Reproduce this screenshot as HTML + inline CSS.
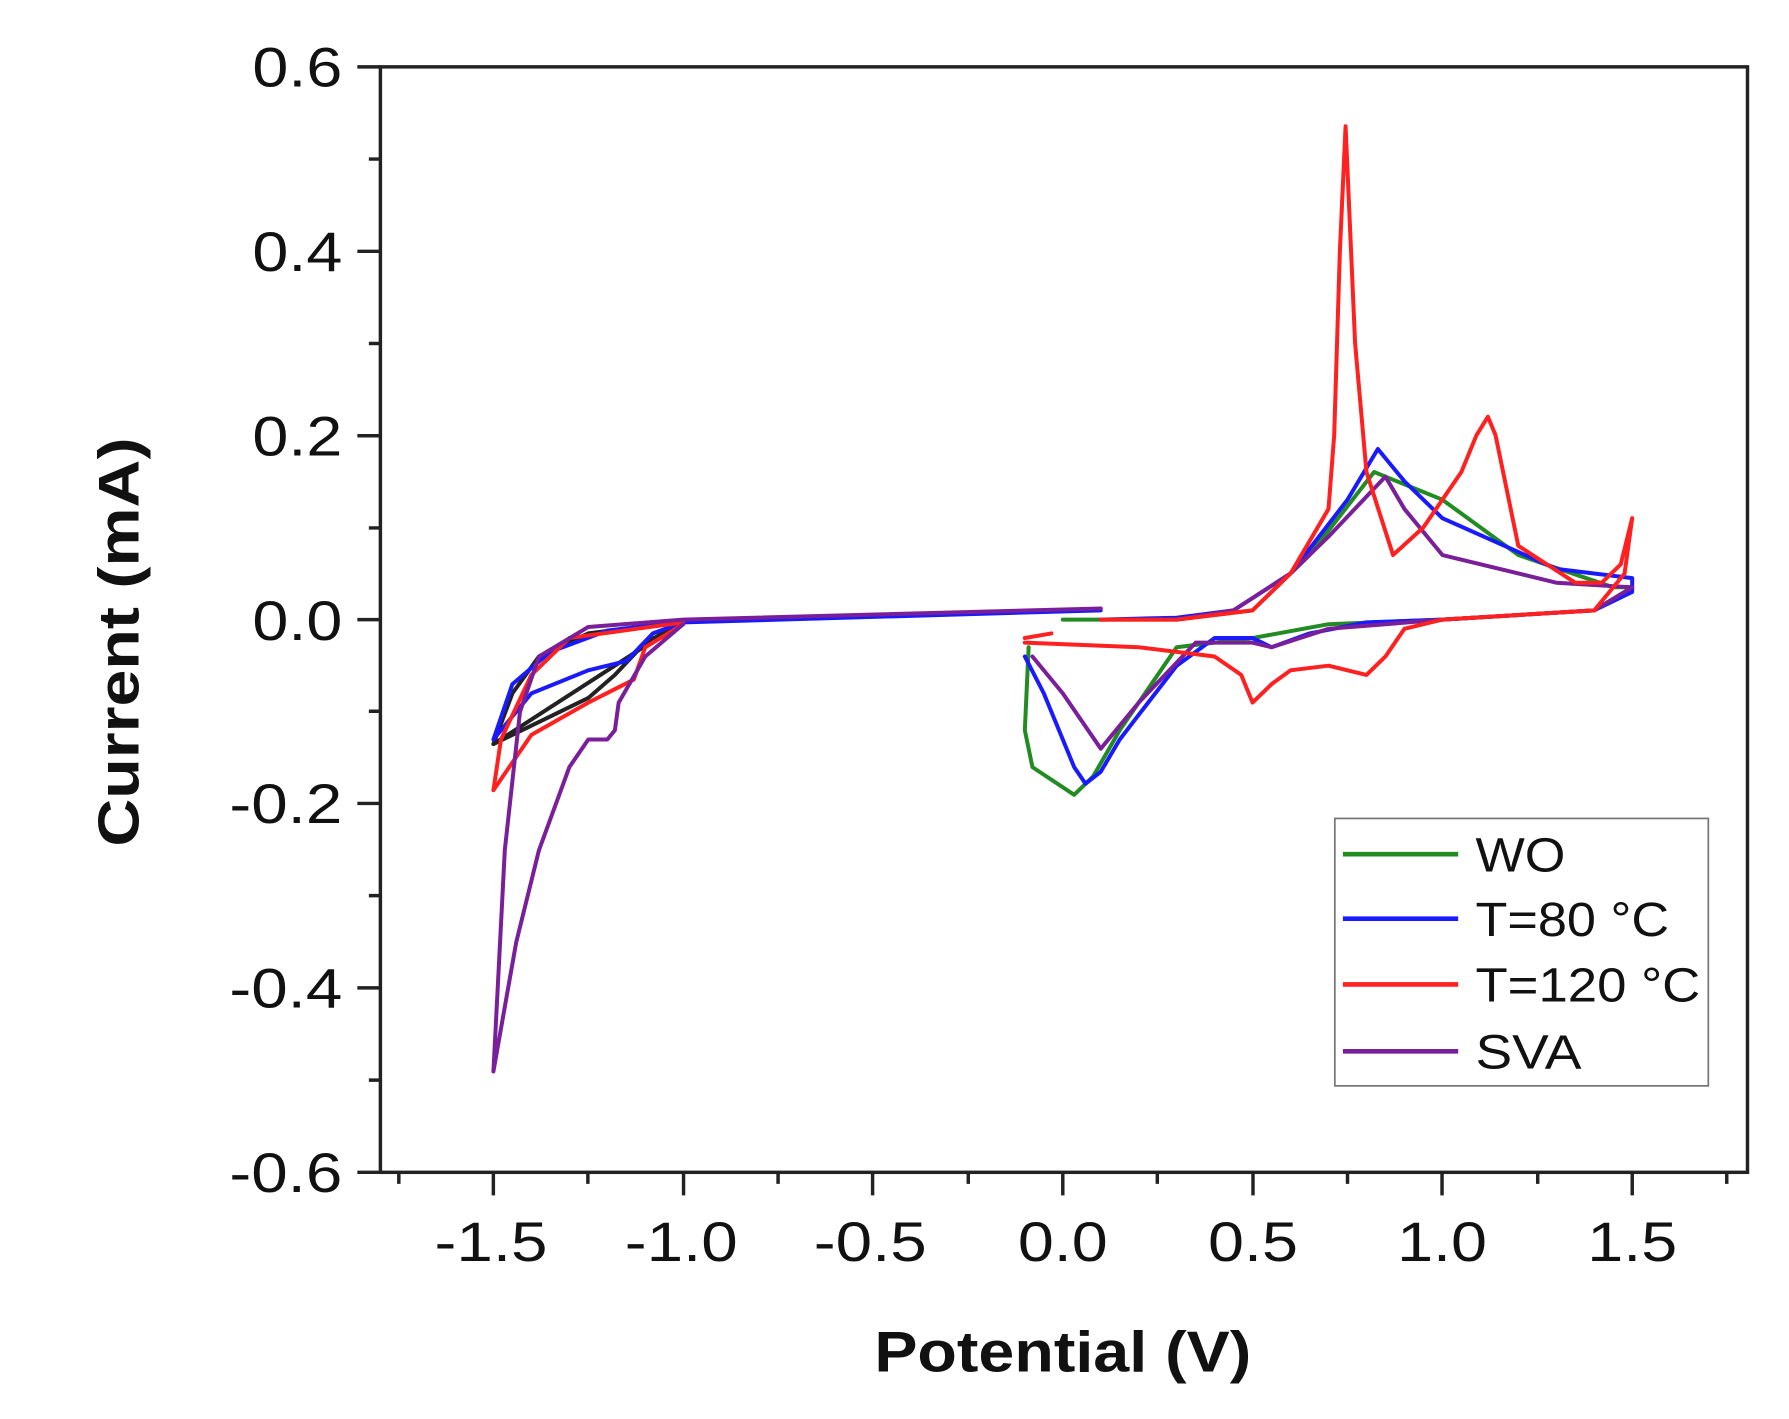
<!DOCTYPE html>
<html><head><style>html,body{margin:0;padding:0;background:#fff}svg{display:block}</style></head>
<body>
<svg width="1789" height="1419" viewBox="0 0 1552 1231" preserveAspectRatio="none" xmlns="http://www.w3.org/2000/svg" font-family="Liberation Sans, sans-serif">
<rect width="1552" height="1231" fill="#fff"/>
<g fill="none" stroke-width="4" stroke-linejoin="round" stroke-linecap="round" transform="translate(922,537.5) scale(329.3,-800)">
<polyline vector-effect="non-scaling-stroke" stroke="#222" points="-1.5,-0.135 -1.45,-0.08 -1.38,-0.04 -1.25,-0.015 -1.0,-0.002 -1.5,-0.135 -1.35,-0.105 -1.25,-0.085 -1.18,-0.06 -1.1,-0.025 -1.0,-0.003"/>
<polyline vector-effect="non-scaling-stroke" stroke="#1a1aff" points="-1.0,-0.002 -1.2,-0.012 -1.35,-0.035 -1.45,-0.07 -1.5,-0.13 -1.4,-0.08 -1.25,-0.055 -1.15,-0.045 -1.08,-0.015 -1.0,-0.003 0.1,0.01"/>
<polyline vector-effect="non-scaling-stroke" stroke="#ff2020" points="-1.0,-0.003 -1.3,-0.02 -1.4,-0.06 -1.48,-0.13 -1.5,-0.185 -1.4,-0.125 -1.25,-0.09 -1.13,-0.065 -1.1,-0.03 -1.0,-0.005"/>
<polyline vector-effect="non-scaling-stroke" stroke="#7a1f9a" points="0.1,0.012 -1.0,0 -1.25,-0.008 -1.38,-0.04 -1.43,-0.1 -1.47,-0.25 -1.5,-0.49 -1.44,-0.35 -1.38,-0.25 -1.3,-0.16 -1.25,-0.13 -1.2,-0.13 -1.18,-0.12 -1.17,-0.09 -1.1,-0.04 -1.0,-0.005"/>
<polyline vector-effect="non-scaling-stroke" stroke="#228b22" points="-0.09,-0.03 -0.1,-0.12 -0.08,-0.16 0.03,-0.19 0.08,-0.17 0.15,-0.12 0.3,-0.03 0.5,-0.02 0.7,-0.005 1.0,0 1.4,0.01 1.5,0.035 1.45,0.035 1.2,0.07 1.0,0.13 0.82,0.16 0.65,0.07 0.5,0.01 0.3,0 0.0,0"/>
<polyline vector-effect="non-scaling-stroke" stroke="#1a1aff" points="-0.1,-0.04 -0.05,-0.08 0.03,-0.16 0.06,-0.178 0.1,-0.165 0.15,-0.13 0.3,-0.05 0.4,-0.02 0.5,-0.02 0.55,-0.03 0.65,-0.015 0.8,-0.003 1.0,0 1.4,0.01 1.5,0.03 1.5,0.045 1.3,0.055 1.0,0.11 0.9,0.15 0.83,0.185 0.75,0.13 0.6,0.05 0.45,0.01 0.3,0.002 0.1,0"/>
<polyline vector-effect="non-scaling-stroke" stroke="#7a1f9a" points="-0.08,-0.04 0.0,-0.08 0.1,-0.14 0.2,-0.09 0.35,-0.025 0.5,-0.025 0.55,-0.03 0.7,-0.01 1.0,0 1.4,0.01 1.5,0.035 1.3,0.04 1.0,0.07 0.9,0.12 0.85,0.155 0.7,0.09 0.6,0.05 0.45,0.01 0.3,0"/>
<polyline vector-effect="non-scaling-stroke" stroke="#ff2020" points="-0.1,-0.02 -0.03,-0.015"/>
<polyline vector-effect="non-scaling-stroke" stroke="#ff2020" points="-0.1,-0.025 0.2,-0.03 0.4,-0.04 0.47,-0.06 0.5,-0.09 0.55,-0.07 0.6,-0.055 0.7,-0.05 0.8,-0.06 0.85,-0.04 0.9,-0.01 1.0,0 1.4,0.01 1.48,0.05 1.5,0.11 1.47,0.06 1.42,0.04 1.35,0.04 1.2,0.08 1.14,0.2 1.12,0.22 1.09,0.2 1.05,0.16 0.95,0.1 0.87,0.07 0.8,0.16 0.77,0.3 0.745,0.535 0.73,0.4 0.715,0.2 0.7,0.12 0.6,0.05 0.5,0.01 0.3,0 0.1,0"/>
</g>
<g stroke="#222" stroke-width="3" fill="none">
<rect x="330" y="58" width="1186" height="959"/>
<path d="M310 58H330M310 218H330M310 378H330M310 537.5H330M310 697H330M310 857H330M310 1017H330
M320 138H330M320 298H330M320 458H330M320 617H330M320 777H330M320 937H330
M428 1017V1037M593 1017V1037M757 1017V1037M922 1017V1037M1087 1017V1037M1251 1017V1037M1416 1017V1037
M346 1017V1027M510 1017V1027M675 1017V1027M840 1017V1027M1004 1017V1027M1169 1017V1027M1334 1017V1027M1498 1017V1027"/>
</g>
<g font-size="48" fill="#111" text-anchor="end" lengthAdjust="spacingAndGlyphs">
<text x="297" y="75" textLength="78" lengthAdjust="spacingAndGlyphs">0.6</text>
<text x="297" y="235" textLength="78" lengthAdjust="spacingAndGlyphs">0.4</text>
<text x="297" y="395" textLength="78" lengthAdjust="spacingAndGlyphs">0.2</text>
<text x="297" y="555" textLength="78" lengthAdjust="spacingAndGlyphs">0.0</text>
<text x="297" y="714" textLength="98" lengthAdjust="spacingAndGlyphs">-0.2</text>
<text x="297" y="874" textLength="98" lengthAdjust="spacingAndGlyphs">-0.4</text>
<text x="297" y="1034" textLength="98" lengthAdjust="spacingAndGlyphs">-0.6</text>
</g>
<g font-size="48" fill="#111" text-anchor="middle">
<text x="426" y="1094" textLength="98" lengthAdjust="spacingAndGlyphs">-1.5</text>
<text x="591" y="1094" textLength="98" lengthAdjust="spacingAndGlyphs">-1.0</text>
<text x="755" y="1094" textLength="98" lengthAdjust="spacingAndGlyphs">-0.5</text>
<text x="922" y="1094" textLength="78" lengthAdjust="spacingAndGlyphs">0.0</text>
<text x="1087" y="1094" textLength="78" lengthAdjust="spacingAndGlyphs">0.5</text>
<text x="1251" y="1094" textLength="78" lengthAdjust="spacingAndGlyphs">1.0</text>
<text x="1416" y="1094" textLength="78" lengthAdjust="spacingAndGlyphs">1.5</text>
</g>
<text x="922" y="1190" font-size="50" font-weight="bold" text-anchor="middle" fill="#111" textLength="327" lengthAdjust="spacingAndGlyphs">Potential (V)</text>
<text transform="translate(120,557) rotate(-90)" font-size="50" font-weight="bold" text-anchor="middle" fill="#111" textLength="355" lengthAdjust="spacingAndGlyphs">Current (mA)</text>
<rect x="1158" y="710" width="324" height="232" fill="#fff" stroke="#777" stroke-width="1.5"/>
<g stroke-width="4">
<line x1="1165" y1="741" x2="1265" y2="741" stroke="#228b22"/>
<line x1="1165" y1="797" x2="1265" y2="797" stroke="#1a1aff"/>
<line x1="1165" y1="854" x2="1265" y2="854" stroke="#ff2020"/>
<line x1="1165" y1="912" x2="1265" y2="912" stroke="#7a1f9a"/>
</g>
<g font-size="42" fill="#111">
<text x="1280" y="756" textLength="78" lengthAdjust="spacingAndGlyphs">WO</text>
<text x="1280" y="812" textLength="168" lengthAdjust="spacingAndGlyphs">T=80 °C</text>
<text x="1280" y="869" textLength="195" lengthAdjust="spacingAndGlyphs">T=120 °C</text>
<text x="1280" y="927" textLength="92" lengthAdjust="spacingAndGlyphs">SVA</text>
</g>
</svg>
</body></html>
